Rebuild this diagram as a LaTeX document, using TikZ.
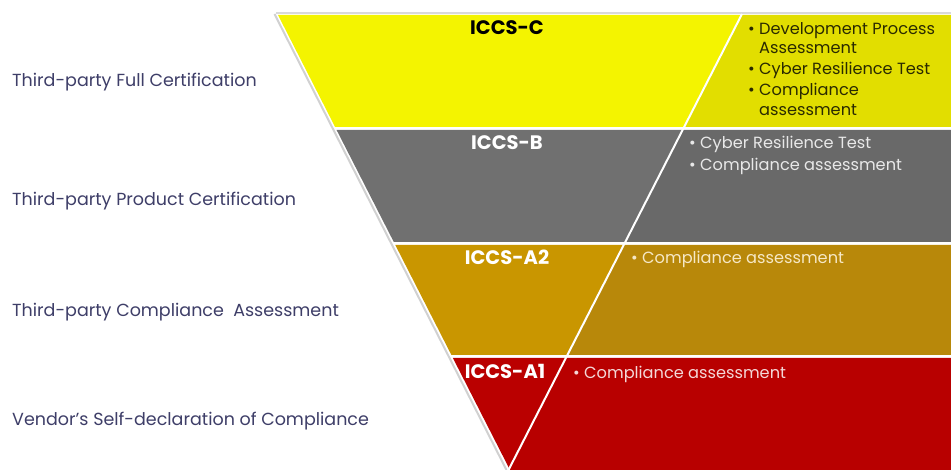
\documentclass[tikz,border=0pt]{standalone}
\usepackage{fontspec}
\setmainfont{Poppins}
\definecolor{ylL}{HTML}{F4F400}
\definecolor{ylR}{HTML}{E2DE00}
\definecolor{grL}{HTML}{707070}
\definecolor{grR}{HTML}{696969}
\definecolor{goL}{HTML}{C99600}
\definecolor{goR}{HTML}{B8880A}
\definecolor{rdL}{HTML}{BA0000}
\definecolor{rdR}{HTML}{B80000}
\definecolor{lbl}{HTML}{3E3E68}
\definecolor{ytxt}{HTML}{2A2A00}
\definecolor{gtxt}{HTML}{E8E8E8}
\definecolor{otxt}{HTML}{F6E8C6}
\definecolor{rtxt}{HTML}{F4D8D8}
\newcommand{\bulitem}{\makebox[11pt][l]{•}}
\begin{document}
\begin{tikzpicture}[x=1pt,y=-1pt,
  lefttext/.style={anchor=base west,inner sep=0pt,text=lbl,font=\fontsize{17.5}{20}\selectfont},
  levellbl/.style={anchor=base,inner sep=0pt,font=\fontsize{19.5}{22}\selectfont\bfseries},
  bul/.style={anchor=base west,inner sep=0pt,font=\fontsize{16.2}{19}\selectfont}]
\useasboundingbox (0,0) rectangle (951,470);
\fill[white] (0,0) rectangle (951,470);
% shadows
\draw[black!15,line width=1.5pt] (276,13) -- (951,13);
\draw[black!18,line width=2pt] (274.5,14) -- (506.5,470);
% bands
\fill[ylL] (278,15) -- (742,15) -- (684.4,127) -- (335.1,127) -- cycle;
\fill[ylR] (742,15) -- (951,15) -- (951,127) -- (684.4,127) -- cycle;
\fill[grL] (336.6,130) -- (682.8,130) -- (625.2,242) -- (393.8,242) -- cycle;
\fill[grR] (682.8,130) -- (951,130) -- (951,242) -- (625.2,242) -- cycle;
\fill[goL] (395.3,245) -- (623.7,245) -- (567.1,355) -- (451.4,355) -- cycle;
\fill[goR] (623.7,245) -- (951,245) -- (951,355) -- (567.1,355) -- cycle;
\fill[rdL] (452.9,358) -- (565.6,358) -- (509,468) -- cycle;
\fill[rdR] (565.6,358) -- (951,358) -- (951,470) -- (508,470) -- cycle;
% white diagonal
\coordinate (dtop) at (742,14);
\coordinate (dbot) at (508.5,470);
\draw[white,line width=2pt] (dtop) -- (dbot);
% level labels
\node[levellbl,text=black] (lc) at (507,35) {ICCS-C};
\node[levellbl,text=white] (lb) at (507,150) {ICCS-B};
\node[levellbl,text=white] (la2) at (507,265) {ICCS-A2};
\node[levellbl,text=white] (la1) at (505,379) {ICCS-A1};
% bullets yellow
\node[bul,text=ytxt] (y1) at (748,35) {\bulitem Development Process};
\node[bul,text=ytxt] (y1b) at (759,54) {Assessment};
\node[bul,text=ytxt] (y2) at (748,75) {\bulitem Cyber Resilience Test};
\node[bul,text=ytxt] (y3) at (748,96) {\bulitem Compliance};
\node[bul,text=ytxt] (y3b) at (759,116) {assessment};
% gray
\node[bul,text=gtxt] (g1) at (689,149) {\bulitem Cyber Resilience Test};
\node[bul,text=gtxt] (g2) at (689,171) {\bulitem Compliance assessment};
% gold
\node[bul,text=otxt] (o1) at (631,264) {\bulitem Compliance assessment};
% red
\node[bul,text=rtxt] (r1) at (573,378) {\bulitem Compliance assessment};
% left labels
\node[lefttext] (t1) at (12,87) {Third-party Full Certification};
\node[lefttext] (t2) at (12,206) {Third-party Product Certification};
\node[lefttext] (t3) at (12,317) {Third-party Compliance\ \ Assessment};
\node[lefttext] (t4) at (12,425) {Vendor’s Self-declaration of Compliance};
\end{tikzpicture}
\end{document}
